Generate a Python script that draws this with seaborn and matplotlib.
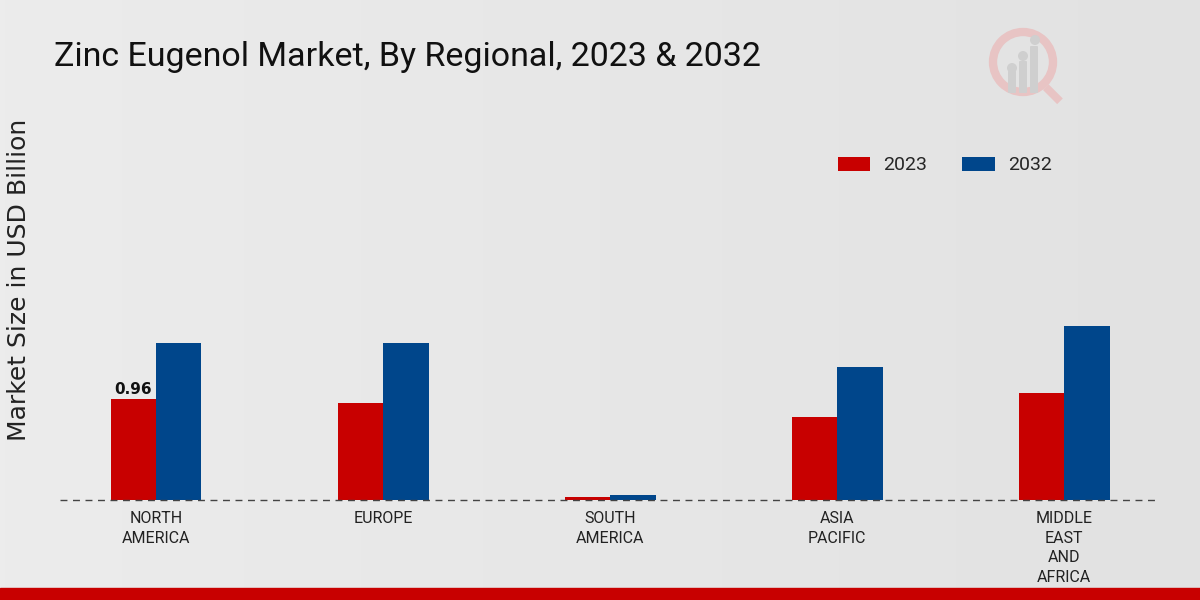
import matplotlib
matplotlib.use("Agg")
import matplotlib.pyplot as plt
import matplotlib.patches as mpatches
import seaborn as sns
import pandas as pd
import numpy as np

regions = ["NORTH\nAMERICA", "EUROPE", "SOUTH\nAMERICA", "ASIA\nPACIFIC", "MIDDLE\nEAST\nAND\nAFRICA"]
years = ["2023", "2032"]
values_2023 = [0.96, 0.92, 0.03, 0.79, 1.02]
values_2032 = [1.49, 1.49, 0.05, 1.26, 1.65]
label_text = "0.96"

df = pd.DataFrame({
    "Region": regions * 2,
    "Year": [years[0]] * len(regions) + [years[1]] * len(regions),
    "Value": values_2023 + values_2032,
})

sns.set_theme(style="white")
narrow = ["Roboto", "DejaVu Sans"]
plt.rcParams["font.family"] = ["DejaVu Sans"]

fig = plt.figure(figsize=(12, 6), dpi=100)
fig.patch.set_facecolor("#e6e6e6")
bg = fig.add_axes([0, 0, 1, 1], zorder=-10)
grad = np.linspace(0, 1, 256).reshape(1, -1)
bg.imshow(np.vstack([grad, grad]), aspect="auto",
          cmap=matplotlib.colors.LinearSegmentedColormap.from_list("g", ["#ececec", "#e2e2e2"]),
          extent=[0, 1, 0, 1])
bg.axis("off")

ax = fig.add_axes([0.05, 1 - 500 / 600, 0.917, 400 / 600])
ax.set_facecolor("none")
palette = {"2023": "#c80000", "2032": "#00468b"}
sns.barplot(data=df, x="Region", y="Value", hue="Year", palette=palette, width=0.4,
            ax=ax, saturation=1, zorder=2, linewidth=0)
ax.set_xlim(-0.423, 4.423)
ax.set_ylim(0, 400 / 105.2)
ax.axhline(0, color="#444444", linestyle=(0, (5, 4)), linewidth=1.0, zorder=5, clip_on=False)
for s in ax.spines.values():
    s.set_visible(False)
ax.set_yticks([])
ax.set_xlabel("")
ax.set_ylabel("Market Size in USD Billion", fontsize=18, color="#222222")
ax.yaxis.set_label_coords(-0.026, 0.55)
ax.tick_params(axis="x", length=4, color="#333333", width=0.8, pad=4)
for t in ax.get_xticklabels():
    t.set_family(narrow)
    t.set_fontsize(11.5)
    t.set_color("#222222")
    t.set_linespacing(1.38)

bar0 = ax.patches[0]
ax.text(bar0.get_x() + bar0.get_width() / 2, values_2023[0] + 0.02, label_text,
        ha="center", va="bottom", fontsize=11, fontweight="bold", color="#111111")

leg = ax.legend(loc="upper left", bbox_to_anchor=(0.691, 0.9025), ncol=2, frameon=False,
                handlelength=1.65, handleheight=0.75, columnspacing=1.8,
                handletextpad=0.7, prop={"family": narrow, "size": 14})

fig.text(0.045, 0.905, "Zinc Eugenol Market, By Regional, 2023 & 2032", fontsize=24.5,
         family=narrow, color="#111111", va="center")

fig.add_artist(mpatches.Rectangle((0, 0), 1, 12 / 600, transform=fig.transFigure,
                                  color="#c80000", zorder=10))

lax = fig.add_axes([975 / 1200, 1 - 112 / 600, 100 / 1200, 90 / 600])
lax.set_xlim(0, 100); lax.set_ylim(0, 90); lax.set_aspect("equal"); lax.axis("off")
lax.add_patch(mpatches.Circle((48, 50), 30, fill=False, lw=6, ec="#e8c4c4"))
lax.add_patch(mpatches.Rectangle((68, 22), 20, 8, angle=-45, fc="#e8c4c4", ec="none"))
for x, h in [(37, 20), (48, 30), (59, 45)]:
    lax.add_patch(mpatches.FancyBboxPatch((x - 3, 20), 6, h, boxstyle="round,pad=1", fc="#cfcfcf", ec="none"))
for x, y in [(37, 44), (48, 56), (60, 72)]:
    lax.add_patch(mpatches.Circle((x, y), 5, fc="#cfcfcf", ec="none"))

fig.savefig("out.png", dpi=100, facecolor=fig.get_facecolor())
